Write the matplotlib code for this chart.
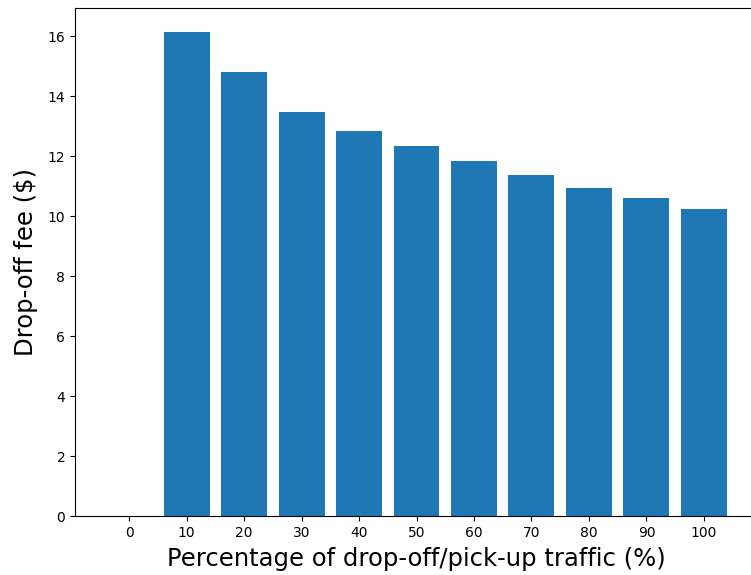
import matplotlib
matplotlib.use("Agg")
import matplotlib.pyplot as plt

pct = [0, 10, 20, 30, 40, 50, 60, 70, 80, 90, 100]
fee = [0, 16.13, 14.79, 13.47, 12.85, 12.34, 11.83, 11.36, 10.92, 10.59, 10.25]

fig = plt.figure(figsize=(7.51, 5.75), dpi=100)
# axes extends a bit past the right edge, as in the cropped original
ax = fig.add_axes([75 / 751, 59 / 575, 683 / 751, 508 / 575])

ax.bar(pct, fee, width=8, color='#1f77b4')
ax.set_xticks(pct)
ax.set_xlabel("Percentage of drop-off/pick-up traffic (%)", fontsize=17.5, labelpad=5)
ax.set_ylabel("Drop-off fee ($)", fontsize=17.5, labelpad=7)

fig.savefig("out.png", dpi=100)
